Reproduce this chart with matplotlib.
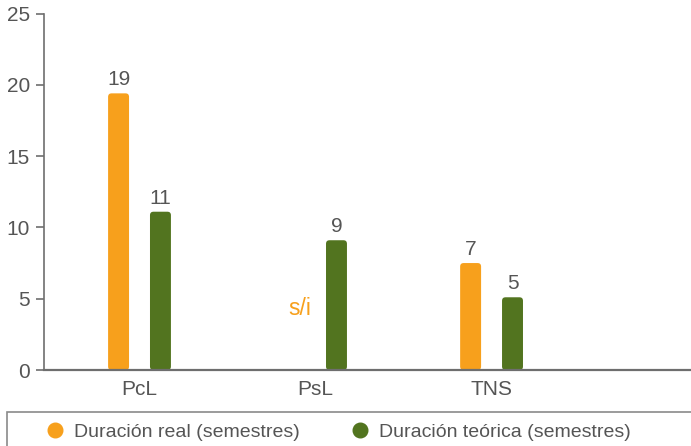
import numpy as np
import matplotlib
matplotlib.use("Agg")
import matplotlib.pyplot as plt
from matplotlib.patches import FancyBboxPatch, Rectangle
from matplotlib.lines import Line2D

categories = ["PcL", "PsL", "TNS"]
real_vals = [19.4, np.nan, 7.5]
teo_vals = [11.1, 9.1, 5.1]
real_labels = ["19", "s/i", "7"]
teo_labels = ["11", "9", "5"]
series_names = ["Duración real (semestres)", "Duración teórica (semestres)"]
yticks = [0, 5, 10, 15, 20, 25]

ORANGE = "#F7A01C"
GREEN = "#52741F"
TXT = "#555555"
AX = "#6e6e6e"

plt.rcParams['font.family'] = ['Liberation Sans', 'DejaVu Sans']

W, H = 691, 446
fig = plt.figure(figsize=(W / 100, H / 100), dpi=100)
ax = fig.add_axes([44 / W, (446 - 370) / H, 1 - 44 / W, (370 - 13.5) / H])

x = np.arange(len(categories))
bw = 0.119
off = 0.119
xmin, xmax = -0.5426, 3.133
ax.set_xlim(xmin, xmax)
ax.set_ylim(0, 25)

px_x = (xmax - xmin) / (W - 44)
px_y = 25 / (370 - 13.5)
asp = px_y / px_x
r = 3.5 * px_x

def rounded(bars, color):
    for b in bars:
        h = b.get_height()
        b.set_visible(False)
        if not np.isfinite(h) or h == 0:
            continue
        p = FancyBboxPatch((b.get_x(), b.get_y()), b.get_width(), h,
                           boxstyle=f"round,pad=0,rounding_size={r}",
                           mutation_aspect=asp, fc=color, ec="none", zorder=2)
        ax.add_patch(p)

b1 = ax.bar(x - off, real_vals, bw, color=ORANGE)
b2 = ax.bar(x + off, teo_vals, bw, color=GREEN)
rounded(b1, ORANGE)
rounded(b2, GREEN)

for i, (v, lab) in enumerate(zip(real_vals, real_labels)):
    if np.isfinite(v):
        ax.annotate(lab, (x[i] - off, v), xytext=(0, 3), textcoords="offset points",
                    ha="center", va="bottom", fontsize=15, color=TXT)
    else:
        ax.text(x[i] - 0.091, 4.28, lab, ha="center", va="center",
                fontsize=16.5, color=ORANGE)
for i, (v, lab) in enumerate(zip(teo_vals, teo_labels)):
    ax.annotate(lab, (x[i] + off, v), xytext=(0, 3), textcoords="offset points",
                ha="center", va="bottom", fontsize=15, color=TXT)

for s in ["top", "right"]:
    ax.spines[s].set_visible(False)
ax.spines["left"].set_color(AX)
ax.spines["bottom"].set_color(AX)
ax.spines["left"].set_linewidth(1.2)
ax.spines["bottom"].set_linewidth(1.6)

ax.set_yticks(yticks)
ax.set_yticklabels([str(t) for t in yticks])
ax.set_xticks(x)
ax.set_xticklabels(categories)
ax.tick_params(axis="y", length=6, width=1.2, color=AX, labelcolor=TXT,
               labelsize=15, pad=4)
ax.tick_params(axis="x", length=0, labelcolor=TXT, labelsize=15, pad=7.5)

# legend frame
fig.add_artist(Rectangle((7 / W, -0.2), 1.2, (446 - 412) / H + 0.2,
                         transform=fig.transFigure, fill=False,
                         ec="#8a8a8a", lw=1.2, clip_on=False))
handles = [Line2D([], [], ls="none", marker="o", markersize=10.5, color=ORANGE),
           Line2D([], [], ls="none", marker="o", markersize=10.5, color=GREEN)]
leg = fig.legend(handles, series_names, loc="center left",
                 bbox_to_anchor=(45 / W, (446 - 432) / H), ncol=2,
                 frameon=False, fontsize=14, handlelength=1.0,
                 handletextpad=0.48, columnspacing=2.6, borderpad=0,
                 borderaxespad=0)
for t in leg.get_texts():
    t.set_color(TXT)

fig.savefig("out.png", dpi=100)
